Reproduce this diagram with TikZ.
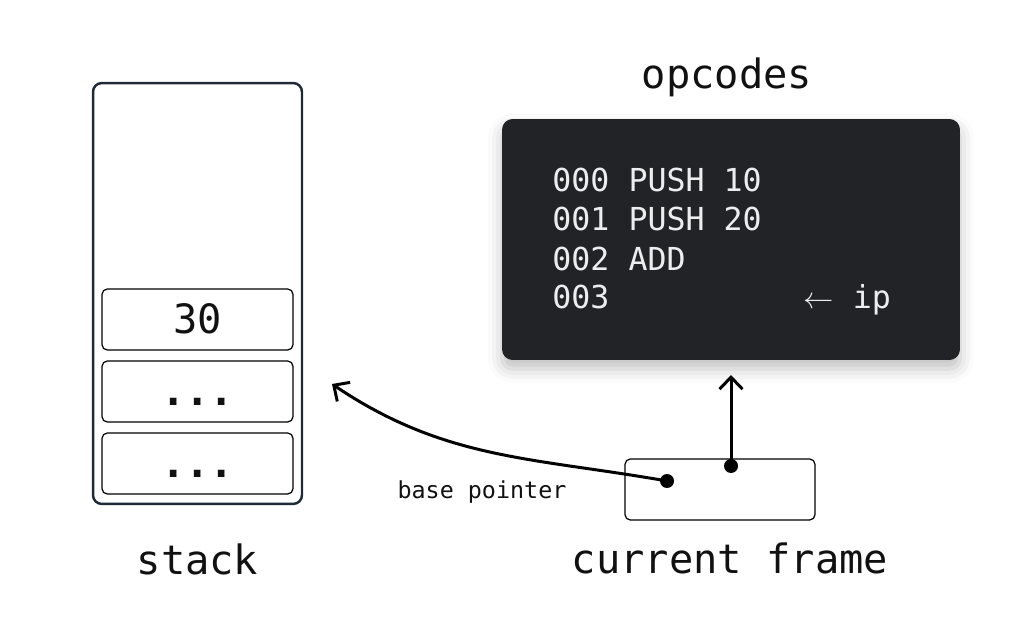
\documentclass[tikz,border=0pt]{standalone}
\usepackage{fontspec}
\setmonofont{DejaVu Sans Mono}
\usetikzlibrary{positioning}
\usetikzlibrary{arrows.meta}
\usetikzlibrary{shadows.blur}

\definecolor{navy}{RGB}{31,41,55}
\definecolor{codebg}{RGB}{33,35,39}
\definecolor{codefg}{RGB}{236,237,238}
\definecolor{ink}{RGB}{17,17,17}

\begin{document}
\begin{tikzpicture}[x=0.02cm, y=-0.02cm,
    font=\ttfamily, text=ink,
    title/.style={anchor=base, font=\ttfamily\fontsize{23}{26}\selectfont},
    slot/.style={draw=black, line width=0.7pt, rounded corners=3pt,
      minimum width=3.82cm, minimum height=1.22cm, inner sep=0pt,
      text height=0.58cm, text depth=0pt, font=\ttfamily\fontsize{23}{26}\selectfont},
    codeline/.style={anchor=base west, inner sep=0pt, text=codefg, font=\ttfamily\fontsize{18}{21}\selectfont},
    pointdot/.style={circle, fill=black, inner sep=0pt, minimum size=0.28cm},
    pointer/.style={line width=1.7pt, -{Straight Barb[length=2.4mm, width=4.6mm, line width=1.7pt]}}]
   \useasboundingbox (0,0) rectangle (1024,638);

   % stack with its slots
   \node[draw=navy, line width=1.4pt, rounded corners=5pt, minimum width=4.18cm, minimum height=8.42cm] (stack) at (197.5,293.5) {};
   \node[slot] (slot1) at (197.5,319.5) {30};
   \node[slot] (slot2) at (197.5,391.5) {\textbf{...}};
   \node[slot] (slot3) at (197.5,463.5) {\textbf{...}};
   \node[title] (stacklabel) at (197.5,574) {stack};

   % opcodes box
   \node[title] (opclabel) at (727,89) {opcodes};
   \node[fill=codebg, rounded corners=6pt, minimum width=9.16cm, minimum height=4.82cm,
     blur shadow={shadow xshift=0pt, shadow yshift=-5pt, shadow blur radius=8pt, shadow opacity=25}] (code) at (731,239.5) {};
   \node[codeline] (op0) at (552,192) {000 PUSH 10};
   \node[codeline] (op1) at (552,231) {001 PUSH 20};
   \node[codeline] (op2) at (552,270.5) {002 ADD};
   \node[codeline] (op3) at (552,309) {003};
   \node[codeline] (iplabel) at (803,309) {$\leftarrow$ ip};

   % current frame
   \node[draw=black, line width=0.7pt, rounded corners=3pt, minimum width=3.8cm, minimum height=1.22cm] (frame) at (720,489.5) {};
   \node[title] (framelabel) at (730,573) {current frame};
   \node[pointdot] (bpdot) at (667,481) {};
   \node[pointdot] (ipdot) at (731,466) {};
   \coordinate (bptarget) at (332,384);
   \coordinate (iptarget) at (731,375);

   % pointers
   \draw[pointer] (bpdot.center) to[out=170, in=-34] (bptarget);
   \draw[pointer] (ipdot.center) -- (iptarget);
   \node[anchor=base, font=\ttfamily\fontsize{13.3}{16}\selectfont] (bplabel) at (482,498) {base pointer};
\end{tikzpicture}
\end{document}
